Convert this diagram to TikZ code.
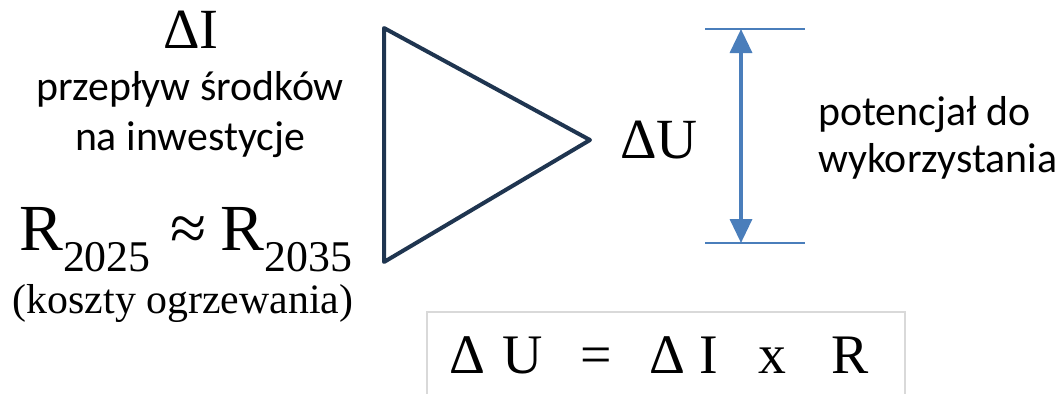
\documentclass[tikz,border=0pt]{standalone}
\usepackage{fontspec}
\setmainfont{Liberation Serif}
\newfontfamily\calib{Carlito}
\usetikzlibrary{arrows.meta}
\definecolor{navy}{HTML}{1F3550}
\definecolor{oblue}{HTML}{4A7EBB}
\definecolor{boxgray}{HTML}{D9D9D9}
\tikzset{
  serifbig/.style={inner sep=0pt, anchor=base, font=\fontsize{57}{60}\selectfont},
  sanslbl/.style={inner sep=0pt, anchor=base, font=\calib\fontsize{42}{46}\selectfont},
  bluerule/.style={draw=oblue, line width=2.7bp},
  bluearrow/.style={draw=oblue, line width=3.5bp, {Triangle[width=22bp,length=24bp]}-{Triangle[width=22bp,length=24bp]}},
}
\newcommand{\subyr}[1]{\raisebox{-21bp}{\fontsize{44}{44}\selectfont #1}}
\begin{document}
\begin{tikzpicture}[x=1bp,y=-1bp]
\useasboundingbox (0,0) rectangle (1059,393);
% left texts
\node[serifbig] (dI) at (191,48) {ΔI};
\node[sanslbl] (p1) at (190,100) {przepływ środków};
\node[sanslbl] (p2) at (190,150) {na inwestycje};
\node[inner sep=0pt, anchor=base west, font=\fontsize{66}{70}\selectfont] (R) at (19,250)
  {R\subyr{2025}\hspace{20bp}≈\hspace{14bp}R\subyr{2035}};
\node[inner sep=0pt, anchor=base, font=\fontsize{42}{44}\selectfont] (k) at (183,313) {(koszty ogrzewania)};
% triangle
\coordinate (t1) at (384,28);
\coordinate (t2) at (384,262);
\coordinate (t3) at (590,140);
\draw[navy, line width=4bp, line join=round] (t1) -- (t3) -- (t2) -- cycle;
\node[serifbig] (dU) at (659,158) {ΔU};
% blue dimension
\coordinate (ta) at (705,29);
\coordinate (tb) at (805,29);
\coordinate (ba) at (705,243);
\coordinate (bb) at (805,243);
\coordinate (at) at (741,29);
\coordinate (ab) at (741,243);
\draw[bluerule] (ta) -- (tb);
\draw[bluerule] (ba) -- (bb);
\draw[bluearrow] (at) -- (ab);
\node[sanslbl, anchor=base west] (q1) at (818,125) {potencjał do};
\node[sanslbl, anchor=base west] (q2) at (818,172) {wykorzystania};
% equation box
\draw[boxgray, line width=1.5bp] (427,312) rectangle (905,420);
\node[inner sep=0pt, anchor=base west, font=\fontsize{56}{60}\selectfont] (eq) at (449,373)
  {Δ\hspace{17bp}U\hspace{38bp}=\hspace{38bp}Δ\hspace{14bp}I\hspace{40bp}x\hspace{45bp}R};
\end{tikzpicture}
\end{document}
